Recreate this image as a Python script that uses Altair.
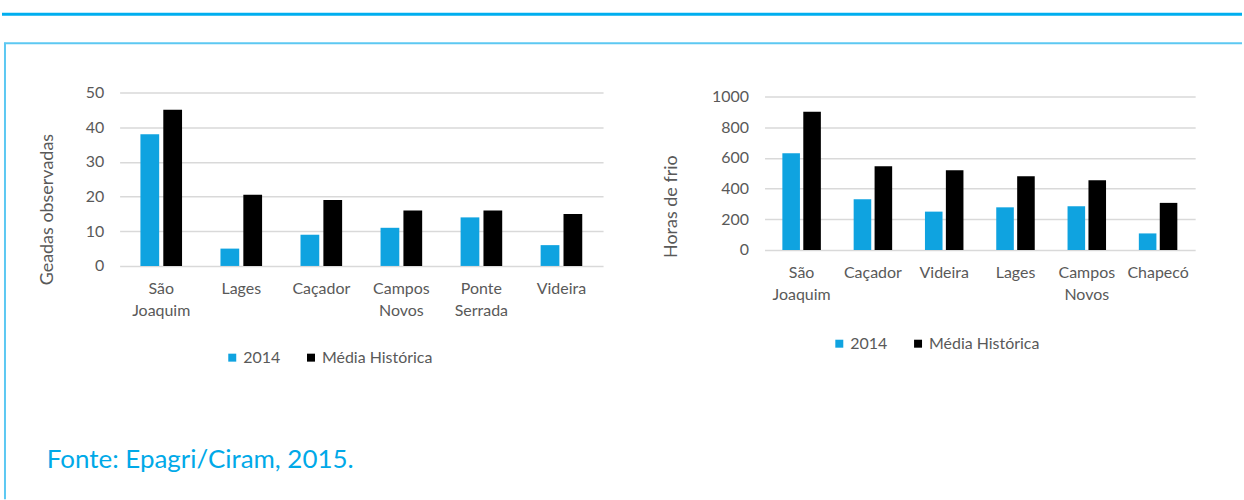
import altair as alt
import pandas as pd

# ---- data ----
left_cities = ["São Joaquim", "Lages", "Caçador", "Campos Novos", "Ponte Serrada", "Videira"]
left_2014 = [38, 5, 9, 11, 14, 6]
left_media = [45, 20.5, 19, 16, 16, 15]

right_cities = ["São Joaquim", "Caçador", "Videira", "Lages", "Campos Novos", "Chapecó"]
right_2014 = [630, 330, 250, 278, 285, 108]
right_media = [900, 545, 520, 480, 455, 307]

series = ["2014", "Média Histórica"]
colors = ["#0FA3E0", "#000000"]
left_ticks = [0, 10, 20, 30, 40, 50]
right_ticks = [0, 200, 400, 600, 800, 1000]
fonte_text = "Fonte: Epagri/Ciram, 2015."

FONT = "Lato"
GRAY = "#595959"


def long_df(cities, s1, s2):
    rows = []
    for c, a, b in zip(cities, s1, s2):
        rows.append({"cidade": c, "serie": series[0], "valor": a})
        rows.append({"cidade": c, "serie": series[1], "valor": b})
    return pd.DataFrame(rows)


def bars(df, cities, ticks, domain, width, height, ytitle, tx, ty, lx, ly, pin, poff):
    return alt.Chart(df).mark_bar().encode(
        x=alt.X("cidade:N", sort=cities,
                scale=alt.Scale(paddingInner=pin, paddingOuter=pin / 2 + 0.02),
                axis=alt.Axis(title=None, labelAngle=0, labelExpr="split(datum.label, ' ')",
                              labelLineHeight=22, labelPadding=15, labelFontSize=16,
                              labelFont=FONT, labelColor=GRAY, domain=False, ticks=False,
                              grid=False, labelBaseline="top")),
        xOffset=alt.XOffset("serie:N", sort=series,
                            scale=alt.Scale(paddingInner=poff, paddingOuter=0)),
        y=alt.Y("valor:Q", scale=alt.Scale(domain=domain, nice=False, zero=True),
                axis=alt.Axis(values=ticks, format="d", title=ytitle, domain=False, ticks=False,
                              labelPadding=16, labelFontSize=16, labelFont=FONT,
                              labelColor=GRAY, gridColor="#D9D9D9", gridWidth=1.5,
                              titleFont=FONT, titleFontSize=18, titleColor=GRAY,
                              titleFontWeight="normal", titleAngle=270, titleX=tx,
                              titleY=ty, titleAlign="center", titleBaseline="middle")),
        color=alt.Color("serie:N", sort=series,
                        scale=alt.Scale(domain=series, range=colors),
                        legend=alt.Legend(title=None, orient="none", legendX=lx, legendY=ly,
                                          direction="horizontal", symbolType="square",
                                          symbolSize=64, symbolStrokeWidth=0,
                                          labelFontSize=16, labelFont=FONT,
                                          labelColor=GRAY, columnPadding=22, padding=0,
                                          labelOffset=3)),
    ).properties(width=width, height=height)


# left panel: plot origin at page (118, 92)
OX, OY = 118, 92
one = pd.DataFrame({"k": [0]})

left_bars = bars(long_df(left_cities, left_2014, left_media), left_cities, left_ticks,
                 [0, 50], 485, 174, "Geadas observadas", -72, 117, 105, 258, 0.48, 0.18)

top_line = alt.Chart(one).mark_rule(color="#00AEEF", strokeWidth=3).encode(
    x=alt.value(0 - OX), x2=alt.value(1244 - OX), y=alt.value(13.5 - OY))
box_top = alt.Chart(one).mark_rule(color="#5CC8F2", strokeWidth=2).encode(
    x=alt.value(2 - OX), x2=alt.value(1244 - OX), y=alt.value(42.5 - OY))
box_left = alt.Chart(one).mark_rule(color="#5CC8F2", strokeWidth=2).encode(
    x=alt.value(3 - OX), y=alt.value(42 - OY), y2=alt.value(500 - OY))
fonte = alt.Chart(pd.DataFrame({"t": [fonte_text]})).mark_text(
    align="left", baseline="middle", font=FONT, fontSize=26, color="#00A9E8").encode(
    text="t:N", x=alt.value(45 - OX), y=alt.value(461 - OY))
bounds_rule = alt.Chart(one).mark_rule(opacity=0, strokeWidth=0.1).encode(
    x=alt.value(0 - OX), x2=alt.value(1244 - OX), y=alt.value(0 - OY), y2=alt.value(500 - OY))

left = alt.layer(bounds_rule, top_line, box_top, box_left, fonte, left_bars)

# right panel: plot origin at page (765, 92), 1000 line at y=96, 0 at 250
right = bars(long_df(right_cities, right_2014, right_media), right_cities, right_ticks,
             [0, 1026], 432, 158, "Horas de frio", -93, 114, 67, 244, 0.46, 0.16)

chart = alt.hconcat(left, right, spacing=765 - 118 - 485, bounds="flush").resolve_scale(
    color="independent", x="independent", y="independent", xOffset="independent"
).resolve_legend(color="independent").properties(
    padding=0, background="white", autosize=alt.AutoSizeParams(type="pad")
).configure_view(stroke=None)

chart.save("out.html", embed_options={"renderer": "svg", "actions": False})
